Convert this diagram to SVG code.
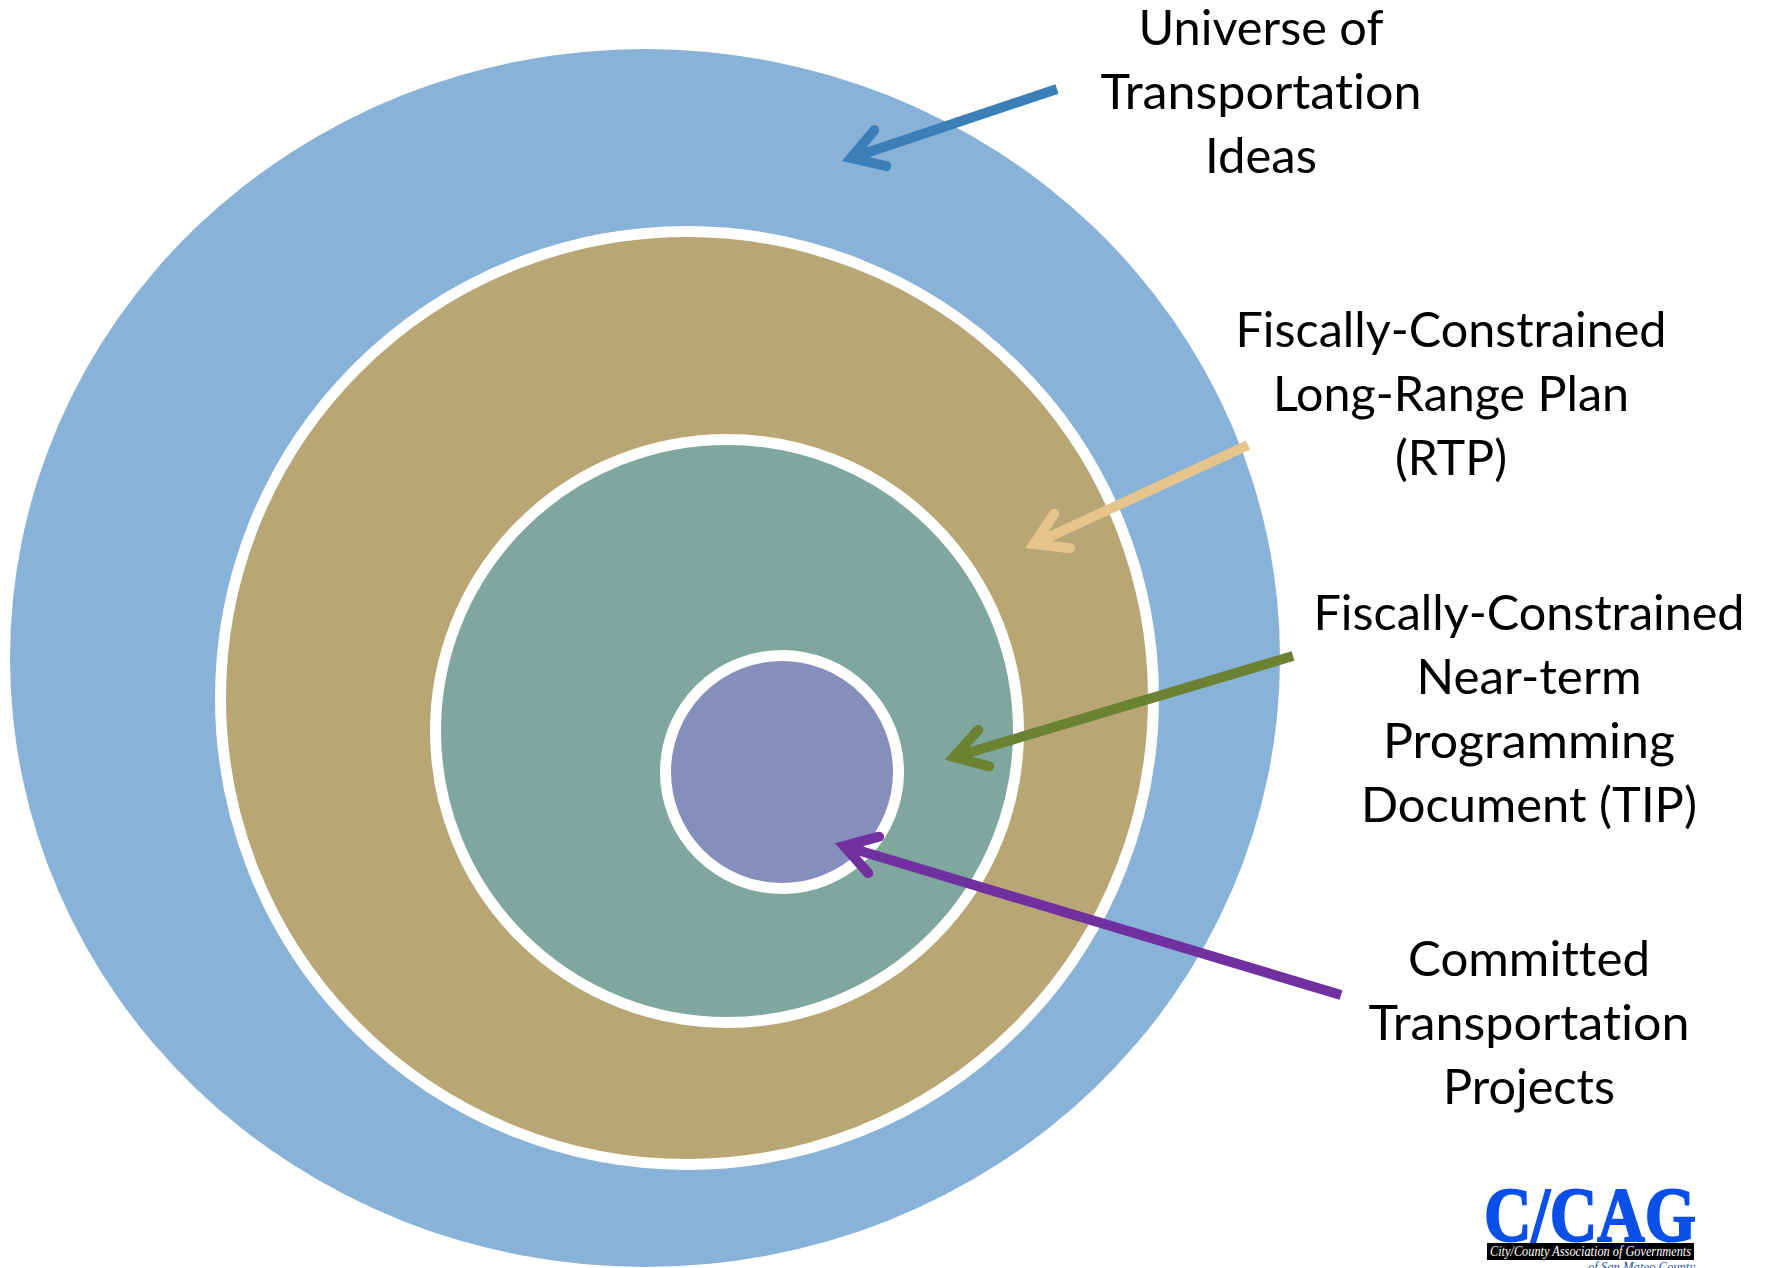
<svg xmlns="http://www.w3.org/2000/svg" width="1770" height="1268" viewBox="0 0 1770 1268">
<style>
.lbl{font-family:"Lato","Carlito","Liberation Sans",sans-serif;font-size:49px;fill:#000;text-anchor:middle;font-variant-ligatures:none}
.ring{stroke:#fff;stroke-width:11}
.shaft{fill:none;stroke-width:10}
.head{fill:none;stroke-width:10;stroke-linecap:round;stroke-linejoin:miter;stroke-miterlimit:10}
.logo{font-family:"Liberation Serif",serif}
</style>
<defs>
<marker id="mb" markerUnits="userSpaceOnUse" orient="auto" markerWidth="1" markerHeight="1" overflow="visible"><path class="head" stroke="#3c7fb8" d="M-31,-19L0,0L-31,19"/></marker>
<marker id="mt" markerUnits="userSpaceOnUse" orient="auto" markerWidth="1" markerHeight="1" overflow="visible"><path class="head" stroke="#e6c58c" d="M-31,-19L0,0L-31,19"/></marker>
<marker id="mg" markerUnits="userSpaceOnUse" orient="auto" markerWidth="1" markerHeight="1" overflow="visible"><path class="head" stroke="#6a8232" d="M-31,-19L0,0L-31,19"/></marker>
<marker id="mp" markerUnits="userSpaceOnUse" orient="auto" markerWidth="1" markerHeight="1" overflow="visible"><path class="head" stroke="#7030a0" d="M-31,-19L0,0L-31,19"/></marker>
</defs>
<rect width="1770" height="1268" fill="#fff"/>
<g id="universe"><ellipse cx="645" cy="658" rx="635" ry="609" fill="#89b2d8"/>
<text class="lbl" x="1261" y="45" textLength="245" lengthAdjust="spacingAndGlyphs">Universe of</text><text class="lbl" x="1261" y="109" textLength="321" lengthAdjust="spacingAndGlyphs">Transportation</text><text class="lbl" x="1261" y="173" textLength="112" lengthAdjust="spacingAndGlyphs">Ideas</text></g>
<g id="rtp"><circle class="ring" cx="687" cy="698" r="466.5" fill="#b9a675"/>
<text class="lbl" x="1451" y="347" textLength="431" lengthAdjust="spacingAndGlyphs">Fiscally-Constrained</text><text class="lbl" x="1451" y="411" textLength="356" lengthAdjust="spacingAndGlyphs">Long-Range Plan</text><text class="lbl" x="1451" y="475" textLength="112" lengthAdjust="spacingAndGlyphs">(RTP)</text></g>
<g id="tip"><circle class="ring" cx="727" cy="731" r="291.5" fill="#7fa79d"/>
<text class="lbl" x="1529" y="630" textLength="431" lengthAdjust="spacingAndGlyphs">Fiscally-Constrained</text><text class="lbl" x="1529" y="694" textLength="225" lengthAdjust="spacingAndGlyphs">Near-term</text><text class="lbl" x="1529" y="758" textLength="292" lengthAdjust="spacingAndGlyphs">Programming</text><text class="lbl" x="1529" y="822" textLength="336" lengthAdjust="spacingAndGlyphs">Document (TIP)</text></g>
<g id="committed"><circle class="ring" cx="782" cy="772" r="116.5" fill="#858fbb"/>
<text class="lbl" x="1529" y="976" textLength="242" lengthAdjust="spacingAndGlyphs">Committed</text><text class="lbl" x="1529" y="1040" textLength="321" lengthAdjust="spacingAndGlyphs">Transportation</text><text class="lbl" x="1529" y="1104" textLength="172" lengthAdjust="spacingAndGlyphs">Projects</text></g>
<g id="connectors">
<line class="shaft" stroke="#3c7fb8" x1="1057" y1="89" x2="851" y2="158" marker-end="url(#mb)"/>
<line class="shaft" stroke="#e6c58c" x1="1248" y1="445" x2="1034" y2="544" marker-end="url(#mt)"/>
<line class="shaft" stroke="#6a8232" x1="1293" y1="656" x2="954" y2="757" marker-end="url(#mg)"/>
<line class="shaft" stroke="#7030a0" x1="1341" y1="995" x2="844" y2="846" marker-end="url(#mp)"/>
</g>
<g id="logo">
<text class="logo" x="1484" y="1241" font-weight="bold" font-size="78" fill="#0a50e8" stroke="#0a50e8" stroke-width="2" textLength="212" lengthAdjust="spacingAndGlyphs">C/CAG</text>
<rect x="1487" y="1243" width="207" height="17" fill="#000"/>
<text class="logo" x="1490" y="1256" font-style="italic" font-size="14" fill="#fff" textLength="201" lengthAdjust="spacingAndGlyphs">City/County Association of Governments</text>
<text class="logo" x="1588" y="1272" font-style="italic" font-size="14" fill="#2a50b0" textLength="107" lengthAdjust="spacingAndGlyphs">of San Mateo County</text>
</g>
</svg>
